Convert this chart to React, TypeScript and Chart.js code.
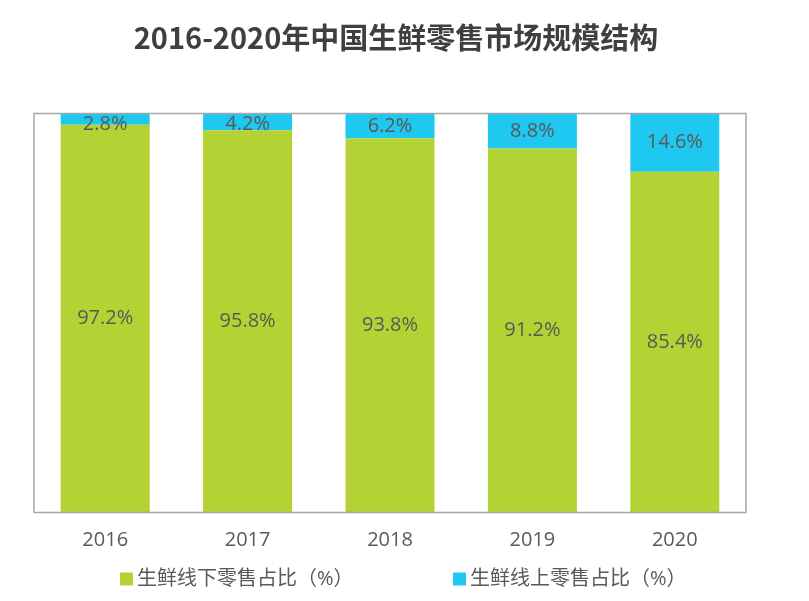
import React, { useEffect, useRef } from "react";
import { Chart, registerables } from "chart.js";

Chart.register(...registerables);

const years = ["2016", "2017", "2018", "2019", "2020"];
const offlineShare = [97.2, 95.8, 93.8, 91.2, 85.4];
const onlineShare = [2.8, 4.2, 6.2, 8.8, 14.6];
const seriesNames = ["生鲜线下零售占比（%）", "生鲜线上零售占比（%）"];
const titleText = "2016-2020年中国生鲜零售市场规模结构";

const GREEN = "#b3d234";
const CYAN = "#1fc8f0";
const FONT = "'Open Sans', 'Noto Sans CJK SC', sans-serif";

const valueLabelPlugin = {
  id: "valueLabels",
  afterDatasetsDraw(chart: any) {
    const ctx = chart.ctx;
    const area = chart.chartArea;
    ctx.save();
    ctx.font = `20px ${FONT}`;
    ctx.fillStyle = "#595959";
    ctx.textAlign = "center";
    ctx.textBaseline = "middle";
    chart.data.datasets.forEach((ds: any, di: number) => {
      const meta = chart.getDatasetMeta(di);
      meta.data.forEach((el: any, i: number) => {
        const p = el.getProps(["x", "y", "base"], true);
        let cy = (p.y + p.base) / 2;
        cy = Math.max(cy, area.top + 11);
        ctx.fillText(ds.data[i].toFixed(1) + "%", p.x, cy);
      });
    });
    ctx.restore();
  },
};

const frameTitlePlugin = {
  id: "frameTitle",
  afterDraw(chart: any) {
    const { ctx, chartArea: a } = chart;
    ctx.save();
    ctx.strokeStyle = "#a6a6a6";
    ctx.lineWidth = 1.5;
    ctx.strokeRect(a.left, a.top, a.right - a.left, a.bottom - a.top);
    ctx.font = `bold 29px 'Noto Sans CJK SC', sans-serif`;
    ctx.fillStyle = "#3f3f3f";
    ctx.textAlign = "center";
    ctx.textBaseline = "middle";
    ctx.fillText(titleText, 396, 38);
    ctx.restore();
  },
};

const legendPlugin = {
  id: "customLegend",
  afterDraw(chart: any) {
    const ctx = chart.ctx;
    ctx.save();
    ctx.font = `20px ${FONT}`;
    ctx.textBaseline = "middle";
    ctx.textAlign = "left";
    const box = 13;
    const starts = [120, 453];
    const cy = 579;
    chart.data.datasets.forEach((ds: any, i: number) => {
      const x = starts[i];
      ctx.fillStyle = ds.backgroundColor;
      ctx.fillRect(x, cy - box / 2, box, box);
      ctx.fillStyle = "#595959";
      ctx.fillText(ds.label, x + box + 4, cy);
    });
    ctx.restore();
  },
};

export default function App() {
  const ref = useRef<HTMLCanvasElement | null>(null);

  useEffect(() => {
    document.body.style.margin = "0";
    if (!ref.current) return;
    const chart = new Chart(ref.current, {
      type: "bar",
      data: {
        labels: years,
        datasets: [
          {
            label: seriesNames[0],
            data: offlineShare,
            backgroundColor: GREEN,
            barPercentage: 0.625,
            categoryPercentage: 1,
          },
          {
            label: seriesNames[1],
            data: onlineShare,
            backgroundColor: CYAN,
            barPercentage: 0.625,
            categoryPercentage: 1,
          },
        ],
      },
      options: {
        responsive: false,
        animation: false,
        layout: { padding: { left: 34, right: 63, top: 113.5, bottom: 33.5 } },
        plugins: {
          legend: { display: false },
          tooltip: { enabled: false },
          title: { display: false },
        },
        scales: {
          x: {
            stacked: true,
            grid: { display: false, drawTicks: false },
            border: { display: false },
            ticks: { color: "#595959", font: { size: 20, family: FONT }, padding: 15.5 },
          },
          y: {
            stacked: true,
            display: false,
            min: 0,
            max: 100,
          },
        },
      },
      plugins: [valueLabelPlugin, frameTitlePlugin, legendPlugin],
    });
    return () => chart.destroy();
  }, []);

  return (
    <div style={{ width: 809, height: 601, background: "#fff" }}>
      <canvas ref={ref} width={809} height={601} />
    </div>
  );
}
